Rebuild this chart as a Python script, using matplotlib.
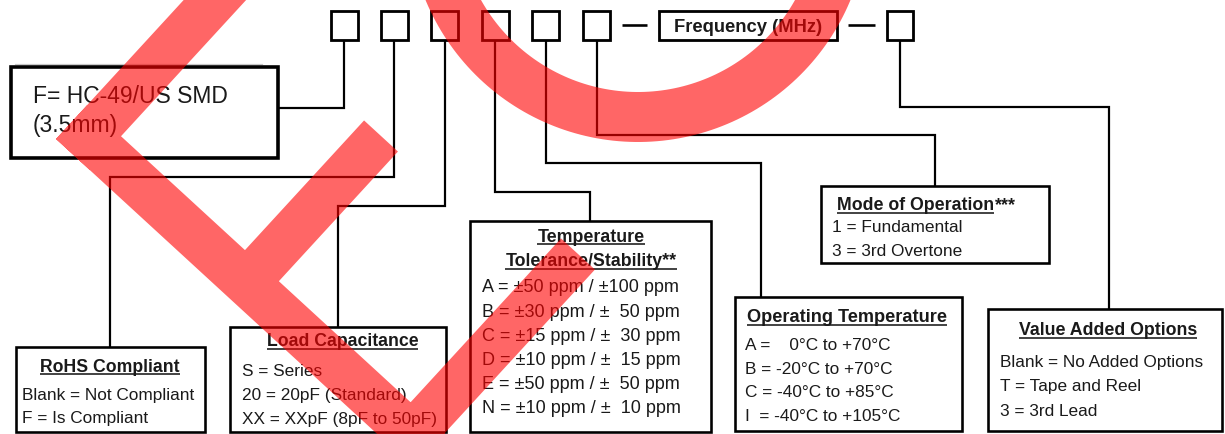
import numpy as np
import matplotlib
matplotlib.use("Agg")
import matplotlib.pyplot as plt
from matplotlib.patches import Rectangle, PathPatch
from matplotlib.path import Path

# ---------------- content ----------------
code_slots = ["", "", "", "", "", ""]          # six single-character code slots
freq_label = "Frequency (MHz)"
last_slot = ""
package_lines = ["F= HC-49/US SMD", "(3.5mm)"]
rohs_title = "RoHS Compliant"
rohs_options = ["Blank = Not Compliant", "F = Is Compliant"]
load_title = "Load Capacitance"
load_options = ["S = Series", "20 = 20pF (Standard)", "XX = XXpF (8pF to 50pF)"]
tol_title = ["Temperature", "Tolerance/Stability**"]
tol_options = ["A = \u00b150 ppm / \u00b1100 ppm",
               "B = \u00b130 ppm / \u00b1  50 ppm",
               "C = \u00b115 ppm / \u00b1  30 ppm",
               "D = \u00b110 ppm / \u00b1  15 ppm",
               "E = \u00b150 ppm / \u00b1  50 ppm",
               "N = \u00b110 ppm / \u00b1  10 ppm"]
mode_title = "Mode of Operation"
mode_suffix = "***"
mode_options = ["1 = Fundamental", "3 = 3rd Overtone"]
optemp_title = "Operating Temperature"
optemp_options = ["A =    0\u00b0C to +70\u00b0C",
                  "B = -20\u00b0C to +70\u00b0C",
                  "C = -40\u00b0C to +85\u00b0C",
                  "I  = -40\u00b0C to +105\u00b0C"]
vao_title = "Value Added Options"
vao_options = ["Blank = No Added Options", "T = Tape and Reel", "3 = 3rd Lead"]

# ---------------- figure ----------------
W, H = 1225, 434
fig = plt.figure(figsize=(W / 100, H / 100), dpi=100)
ax = fig.add_axes([0, 0, 1, 1])
ax.set_xlim(0, W)
ax.set_ylim(H, 0)
ax.axis("off")

PX = 0.72  # points per pixel at 100 dpi
FONT = "Liberation Sans"
TXT = "#1a1a1a"
underlines = []


def put(x, y, s, px, bold=False, ha="left", underline=False, color=TXT):
    t = ax.text(x, y, s, fontsize=px * PX, fontweight="bold" if bold else "normal",
                ha=ha, va="baseline", family=FONT, color=color, zorder=3)
    if underline:
        underlines.append((t, y))
    return t


def box(x0, y0, x1, y1, lw_px=2.6):
    ax.add_patch(Rectangle((x0, y0), x1 - x0, y1 - y0, fill=False, ec="black",
                           lw=lw_px * PX, zorder=2, joinstyle="miter"))


def wire(pts, lw_px=2.2):
    xs, ys = zip(*pts)
    ax.plot(xs, ys, color="black", lw=lw_px * PX, zorder=1,
            solid_joinstyle="miter", solid_capstyle="butt")


# top code slots
slot_left = [331, 381, 431, 482, 532, 583]
for xl, _s in zip(slot_left, code_slots):
    box(xl, 10.5, xl + 26.5, 39.5, 2.8)
wire([(622, 24.5), (647, 24.5)], 2.6)
box(659, 10.7, 837, 40, 2.8)
put(748, 31.5, freq_label, 18.4, bold=True, ha="center")
wire([(848, 24.5), (875, 24.5)], 2.6)
box(887, 10.5, 913, 39.5, 2.8)

# connectors
wire([(344, 39.5), (344, 108), (278, 108)])
wire([(394, 39.5), (394, 177), (110, 177), (110, 347)])
wire([(444.5, 39.5), (444.5, 206), (338, 206), (338, 327)])
wire([(495, 39.5), (495, 192), (590, 192), (590, 221)])
wire([(545.5, 39.5), (545.5, 163), (761, 163), (761, 297)])
wire([(596.5, 39.5), (596.5, 135), (935, 135), (935, 186)])
wire([(900, 39.5), (900, 107), (1108.5, 107), (1108.5, 309)])

# package box
ax.plot([15, 262], [63.5, 63.5], color="#c8c8c8", lw=1.2 * PX, zorder=0)
box(11, 67, 278, 158, 3.6)
put(33, 103, package_lines[0], 22.9)
put(33, 132, package_lines[1], 22.9)

# RoHS
box(16, 347, 205, 432)
put(110, 371.5, rohs_title, 17.6, bold=True, ha="center", underline=True)
for i, s in enumerate(rohs_options):
    put(22, 400 + 23.3 * i, s, 17.2)

# Load capacitance
box(230, 327, 446, 432)
put(342.5, 346.5, load_title, 17.6, bold=True, ha="center", underline=True)
for i, s in enumerate(load_options):
    put(242, 376.5 + 23.7 * i, s, 17.2)

# Temperature tolerance
box(470, 221, 711, 432)
put(591, 241.5, tol_title[0], 17.8, bold=True, ha="center", underline=True)
put(591, 266.5, tol_title[1], 17.8, bold=True, ha="center", underline=True)
for i, s in enumerate(tol_options):
    put(482, 292.5 + 24.1 * i, s, 18.0)

# Mode of operation
box(821, 186, 1049, 263)
t_mode = put(837, 210, mode_title, 17.8, bold=True, underline=True)
for i, s in enumerate(mode_options):
    put(832, 231.5 + 25 * i, s, 17.2)

# Operating temperature
box(735, 297, 962, 431)
put(747, 322.5, optemp_title, 18.2, bold=True, underline=True)
for i, s in enumerate(optemp_options):
    put(745, 350 + 23.6 * i, s, 17.2)

# Value added options
box(988, 309, 1222, 431)
put(1108, 335, vao_title, 17.8, bold=True, ha="center", underline=True)
for i, s in enumerate(vao_options):
    put(1000, 366.5 + 24.5 * i, s, 17.2)

# underlines + suffix after mode title
renderer = fig.canvas.get_renderer()
inv = ax.transData.inverted()
for t, yb in underlines:
    bb = t.get_window_extent(renderer)
    x0 = inv.transform((bb.x0, bb.y0))[0]
    x1 = inv.transform((bb.x1, bb.y0))[0]
    ax.plot([x0, x1], [yb + 2.6, yb + 2.6], color=TXT, lw=1.6 * PX, zorder=3,
            solid_capstyle="butt")
bb = t_mode.get_window_extent(renderer)
xm = inv.transform((bb.x1, bb.y0))[0]
put(xm + 1, 210, mode_suffix, 17.8, bold=True)

# ---------------- red watermark (single compound path, union fill) ----------------
polys = []


def rect_stroke(p0, direction, length, width_vec):
    p0 = np.asarray(p0, float)
    d = np.asarray(direction, float)
    wv = np.asarray(width_vec, float)
    return np.array([p0, p0 + length * d, p0 + length * d + wv, p0 + wv])


ds = np.array([0.736, 0.676]); ds /= np.linalg.norm(ds)
ns = np.array([ds[1], -ds[0]])
w = 46.0
Vo = np.array([56.0, 139.0])
polys.append(rect_stroke(Vo, ns, 240, w * ds))            # upper bar
polys.append(rect_stroke(Vo, ds, 500, w * ns))            # long spine
cap = np.array([381.0, 136.0])
polys.append(rect_stroke(cap - w / 2 * ds, -ns, 205, w * ds))   # middle bar
cap2 = np.array([578.0, 254.0])
polys.append(rect_stroke(cap2 - w / 2 * ds, -ns, 300, w * ds))  # check arm

cx, cy, r_out, r_in = 638.0, -88.0, 230.0, 180.0
th = np.radians(np.linspace(-20, 200, 160))
outer = np.c_[cx + r_out * np.cos(th), cy + r_out * np.sin(th)]
inner = np.c_[cx + r_in * np.cos(th[::-1]), cy + r_in * np.sin(th[::-1])]
polys.append(np.vstack([outer, inner]))

verts, codes = [], []
for p in polys:
    x, y = p[:, 0], p[:, 1]
    area = 0.5 * np.sum(x * np.roll(y, -1) - np.roll(x, -1) * y)
    if area < 0:
        p = p[::-1]
    verts.extend(list(p) + [p[0]])
    codes.extend([Path.MOVETO] + [Path.LINETO] * (len(p) - 1) + [Path.CLOSEPOLY])
ax.add_patch(PathPatch(Path(np.array(verts), codes), fc=(1, 0, 0, 0.6), ec="none",
                       zorder=10))

fig.savefig("out.png", dpi=100)
